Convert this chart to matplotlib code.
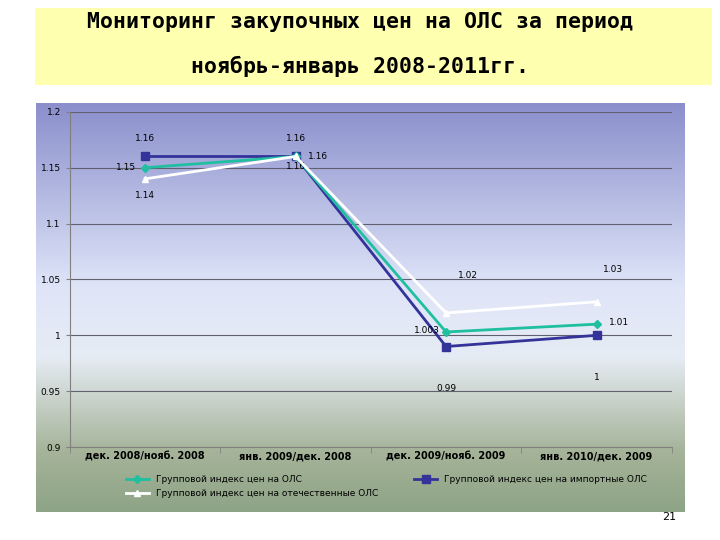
import numpy as np
import matplotlib
matplotlib.use("Agg")
import matplotlib.pyplot as plt
from matplotlib.colors import LinearSegmentedColormap
from matplotlib.patches import Rectangle

categories = ["дек. 2008/нояб. 2008", "янв. 2009/дек. 2008", "дек. 2009/нояб. 2009", "янв. 2010/дек. 2009"]
ols = [1.15, 1.16, 1.003, 1.01]
imp = [1.16, 1.16, 0.99, 1.00]
dom = [1.14, 1.16, 1.02, 1.03]
names = ["Групповой индекс цен на ОЛС", "Групповой индекс цен на импортные ОЛС",
         "Групповой индекс цен на отечественные ОЛС"]
ols_lbl = ["1.15", "1.16", "1.003", "1.01"]
imp_lbl = ["1.16", "1.16", "0.99", "1"]
dom_lbl = ["1.14", "1.16", "1.02", "1.03"]

fig = plt.figure(figsize=(7.2, 5.4), dpi=100)
fig.patch.set_facecolor("white")

fig.patches.append(Rectangle((0.049, 0.843), 0.94, 0.142, transform=fig.transFigure,
                             facecolor="#ffffb0", edgecolor="none", zorder=0))
fig.text(0.5, 0.96, "Мониторинг закупочных цен на ОЛС за период", ha="center", va="center",
         fontsize=15.5, family="DejaVu Sans Mono", fontweight="bold")
fig.text(0.5, 0.877, "ноябрь-январь 2008-2011гг.", ha="center", va="center",
         fontsize=15.5, family="DejaVu Sans Mono", fontweight="bold")

bg = fig.add_axes([0.05, 0.052, 0.901, 0.757], zorder=0)
cmap = LinearSegmentedColormap.from_list("g", [(0, "#8a8fcc"), (0.45, "#dfe5f8"),
                                               (0.62, "#e6ecf4"), (0.85, "#a6b49a"), (1, "#8ea486")])
bg.imshow(np.linspace(0, 1, 256).reshape(-1, 1), aspect="auto", cmap=cmap, extent=[0, 1, 0, 1])
bg.axis("off")

ax = fig.add_axes([0.097, 0.172, 0.836, 0.621], zorder=1)
ax.patch.set_alpha(0)
x = np.arange(len(categories))
l1, = ax.plot(x, ols, color="#1fbf9f", lw=2, marker="D", ms=4, label=names[0], zorder=3)
l2, = ax.plot(x, imp, color="#333399", lw=2, marker="s", ms=6, label=names[1], zorder=2)
l3, = ax.plot(x, dom, color="white", lw=2, marker="^", ms=5, label=names[2], zorder=4)

def lab(vals, texts, offs):
    for i, (v, t, o) in enumerate(zip(vals, texts, offs)):
        ax.annotate(t, (i, v), xytext=o, textcoords="offset points", ha="center", va="center",
                    fontsize=6.5, color="black")

lab(ols, ols_lbl, [(-14, 0), (16, 0), (-14, 1), (16, 1)])
lab(imp, imp_lbl, [(0, 13), (0, -7), (0, -30), (0, -30)])
lab(dom, dom_lbl, [(0, -12), (0, 13), (16, 27), (12, 23)])

ax.set_xlim(-0.5, 3.5)
ax.set_ylim(0.9, 1.2)
ax.set_yticks([0.9, 0.95, 1.0, 1.05, 1.1, 1.15, 1.2])
ax.set_yticklabels(["0.9", "0.95", "1", "1.05", "1.1", "1.15", "1.2"], fontsize=6.5)
ax.yaxis.grid(True, color="#606070", lw=0.8)
ax.set_axisbelow(True)
ax.set_xticks(x)
ax.set_xticklabels(categories, fontsize=7, fontweight="bold")
ax.set_xticks([-0.5, 0.5, 1.5, 2.5, 3.5], minor=True)
ax.tick_params(axis="x", which="major", length=0)
ax.tick_params(axis="x", which="minor", length=4, color="#808080")
ax.tick_params(axis="y", length=3, color="#808080")
for s in ["top", "right"]:
    ax.spines[s].set_visible(False)
for s in ["left", "bottom"]:
    ax.spines[s].set_color("#808080")

ax.legend([l1, l3, l2], [names[0], names[2], names[1]], loc="upper left",
          bbox_to_anchor=(0.08, -0.06), ncol=2, frameon=False,
          fontsize=6.5, handlelength=2.5, columnspacing=4)

fig.text(0.93, 0.042, "21", fontsize=8, ha="center", va="center")
fig.savefig("out.png", dpi=100)
